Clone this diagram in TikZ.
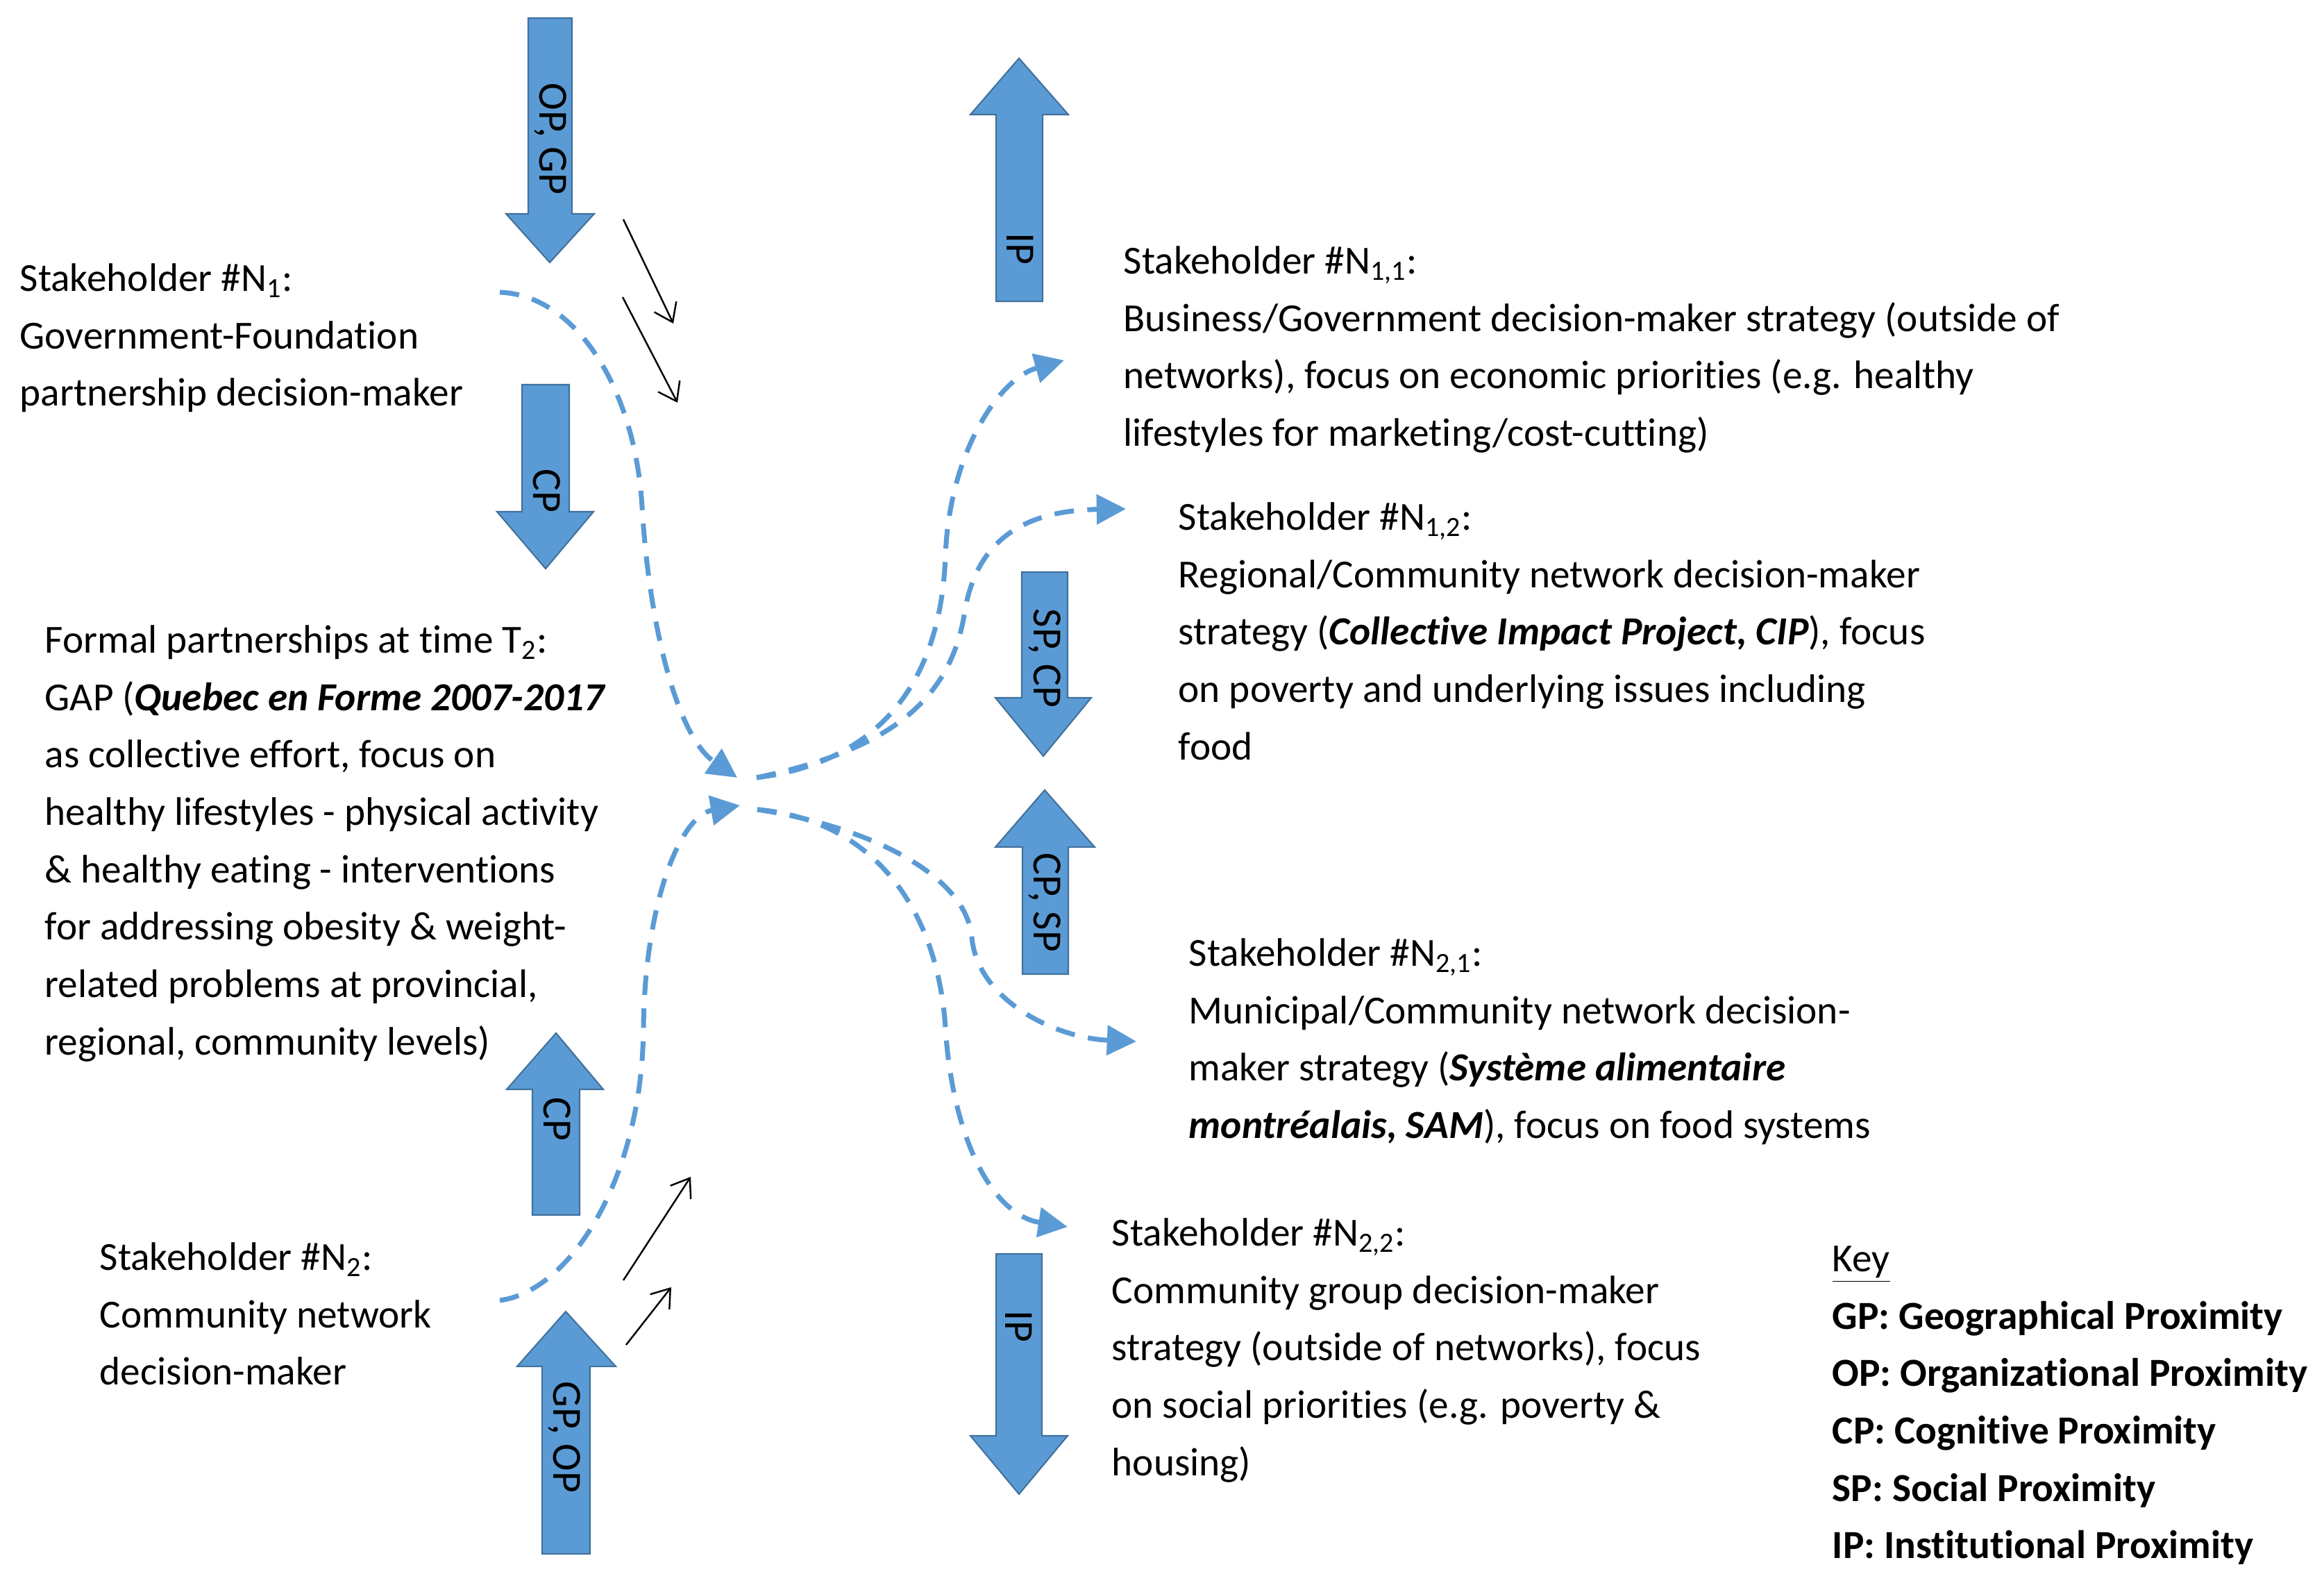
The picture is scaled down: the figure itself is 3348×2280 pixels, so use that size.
\documentclass[tikz,border=0pt]{standalone}
\usepackage{fontspec}
\setmainfont{Carlito}[Ligatures=NoCommon]
\usetikzlibrary{arrows.meta}
\definecolor{arrowblue}{HTML}{5B9BD5}
\definecolor{arrowedge}{HTML}{41719C}
\begin{document}
\begin{tikzpicture}[x=0.01cm,y=-0.01cm,
  txt/.style={anchor=north west, inner sep=0pt, align=left, font=\fontsize{16.3}{23.5}\selectfont},
  barrow/.style={fill=arrowblue, draw=arrowedge, line width=0.6pt, line join=miter},
  blabel/.style={rotate=-90, inner sep=0pt, font=\fontsize{17}{20}\selectfont},
  flow/.style={draw=arrowblue, line width=2pt, dash pattern=on 8pt off 5.5pt, -{Triangle[length=12pt,width=12pt]}},
  pointer/.style={draw=black, line width=0.7pt, -{Straight Barb[length=7pt,width=10pt]}}
]
\useasboundingbox[fill=white] (0,0) rectangle (3348,2280);

% ---- text blocks ----
\node[txt] (n1) at (28,361) {\strut Stakeholder \#N\textsubscript{1}:\\Government-Foundation\\partnership decision-maker};
\node[txt] (t2) at (64,882) {\strut Formal partnerships at time T\textsubscript{2}:\\GAP (\textbf{\textit{Quebec en Forme 2007-2017}}\\as collective effort, focus on\\healthy lifestyles - physical activity\\\& healthy eating - interventions\\for addressing obesity \& weight-\\related problems at provincial,\\regional, community levels)};
\node[txt] (n2) at (143,1771) {\strut Stakeholder \#N\textsubscript{2}:\\Community network\\decision-maker};
\node[txt] (n11) at (1618,336) {\strut Stakeholder \#N\textsubscript{1,1}:\\Business/Government decision-maker strategy (outside of\\networks), focus on economic priorities (e.g. healthy\\lifestyles for marketing/cost-cutting)};
\node[txt] (n12) at (1697,705) {\strut Stakeholder \#N\textsubscript{1,2}:\\Regional/Community network decision-maker\\strategy (\textbf{\textit{Collective Impact Project, CIP}}), focus\\on poverty and underlying issues including\\food};
\node[txt] (n21) at (1712,1333) {\strut Stakeholder \#N\textsubscript{2,1}:\\Municipal/Community network decision-\\maker strategy (\textbf{\textit{Système alimentaire}}\\\textbf{\textit{montréalais, SAM}}), focus on food systems};
\node[txt] (n22) at (1601,1736) {\strut Stakeholder \#N\textsubscript{2,2}:\\Community group decision-maker\\strategy (outside of networks), focus\\on social priorities (e.g. poverty \&\\housing)};
\node[txt] (key) at (2639,1773) {\strut\underline{Key}\\\textbf{GP: Geographical Proximity}\\\textbf{OP: Organizational Proximity}\\\textbf{CP: Cognitive Proximity}\\\textbf{SP: Social Proximity}\\\textbf{IP: Institutional Proximity}};

% ---- block arrows ----
\draw[barrow] (761,26) -- (824,26) -- (824,308) -- (856,308) -- (792,378) -- (729,308) -- (761,308) -- cycle;
\draw[barrow] (752,554) -- (820,554) -- (820,737) -- (855,737) -- (786,819) -- (716,737) -- (752,737) -- cycle;
\draw[barrow] (1468,84) -- (1539,165) -- (1502,165) -- (1502,434) -- (1435,434) -- (1435,165) -- (1398,165) -- cycle;
\draw[barrow] (1472,824) -- (1538,824) -- (1538,1005) -- (1572,1005) -- (1503,1089) -- (1434,1005) -- (1472,1005) -- cycle;
\draw[barrow] (1505,1138) -- (1577,1220) -- (1539,1220) -- (1539,1403) -- (1473,1403) -- (1473,1220) -- (1434,1220) -- cycle;
\draw[barrow] (1435,1806) -- (1501,1806) -- (1501,2068) -- (1538,2068) -- (1468,2152) -- (1398,2068) -- (1435,2068) -- cycle;
\draw[barrow] (801,1488) -- (869,1569) -- (835,1569) -- (835,1750) -- (767,1750) -- (767,1569) -- (730,1569) -- cycle;
\draw[barrow] (815,1889) -- (887,1968) -- (850,1968) -- (850,2238) -- (781,2238) -- (781,1968) -- (745,1968) -- cycle;

\node[blabel] (l1) at (793,200) {OP, GP};
\node[blabel] (l2) at (788,707) {CP};
\node[blabel] (l3) at (1470,358) {IP};
\node[blabel] (l4) at (1505,948) {SP, CP};
\node[blabel] (l5) at (1505,1300) {CP, SP};
\node[blabel] (l6) at (1468,1910) {IP};
\node[blabel] (l7) at (803,1612) {CP};
\node[blabel] (l8) at (813,2070) {GP, OP};

% ---- connector end points ----
\coordinate (n1out) at (720,421);
\coordinate (n2out) at (720,1873);
\coordinate (jin1) at (1062,1120);
\coordinate (jin2) at (1066,1160);
\coordinate (jout1) at (1090,1120);
\coordinate (jout2) at (1091,1166);
\coordinate (n11in) at (1533,519);
\coordinate (n12in) at (1622,733);
\coordinate (n21in) at (1637,1500);
\coordinate (n22in) at (1538,1767);

% ---- dashed flows ----
\draw[flow] (n1out) .. controls (830,425) and (915,560) .. (925,730) .. controls (935,900) and (975,1060) .. (jin1);
\draw[flow] (n2out) .. controls (820,1860) and (925,1700) .. (927,1480) .. controls (929,1300) and (980,1175) .. (jin2);
\draw[flow] (jout1) .. controls (1250,1100) and (1355,1000) .. (1362,800) .. controls (1368,650) and (1440,545) .. (n11in);
\draw[flow] (jout1) .. controls (1280,1080) and (1370,1010) .. (1390,880) .. controls (1410,760) and (1500,735) .. (n12in);
\draw[flow] (jout2) .. controls (1250,1190) and (1392,1260) .. (1400,1350) .. controls (1408,1440) and (1520,1495) .. (n21in);
\draw[flow] (jout2) .. controls (1250,1180) and (1350,1300) .. (1362,1480) .. controls (1372,1640) and (1430,1750) .. (n22in);

% ---- small black arrows ----
\coordinate (pa1) at (898,316);  \coordinate (pa2) at (970,466);
\coordinate (pb1) at (897,428);  \coordinate (pb2) at (976,580);
\coordinate (pc1) at (898,1844); \coordinate (pc2) at (995,1695);
\coordinate (pd1) at (902,1937); \coordinate (pd2) at (967,1854);
\draw[pointer] (pa1) -- (pa2);
\draw[pointer] (pb1) -- (pb2);
\draw[pointer] (pc1) -- (pc2);
\draw[pointer] (pd1) -- (pd2);
\end{tikzpicture}
\end{document}
